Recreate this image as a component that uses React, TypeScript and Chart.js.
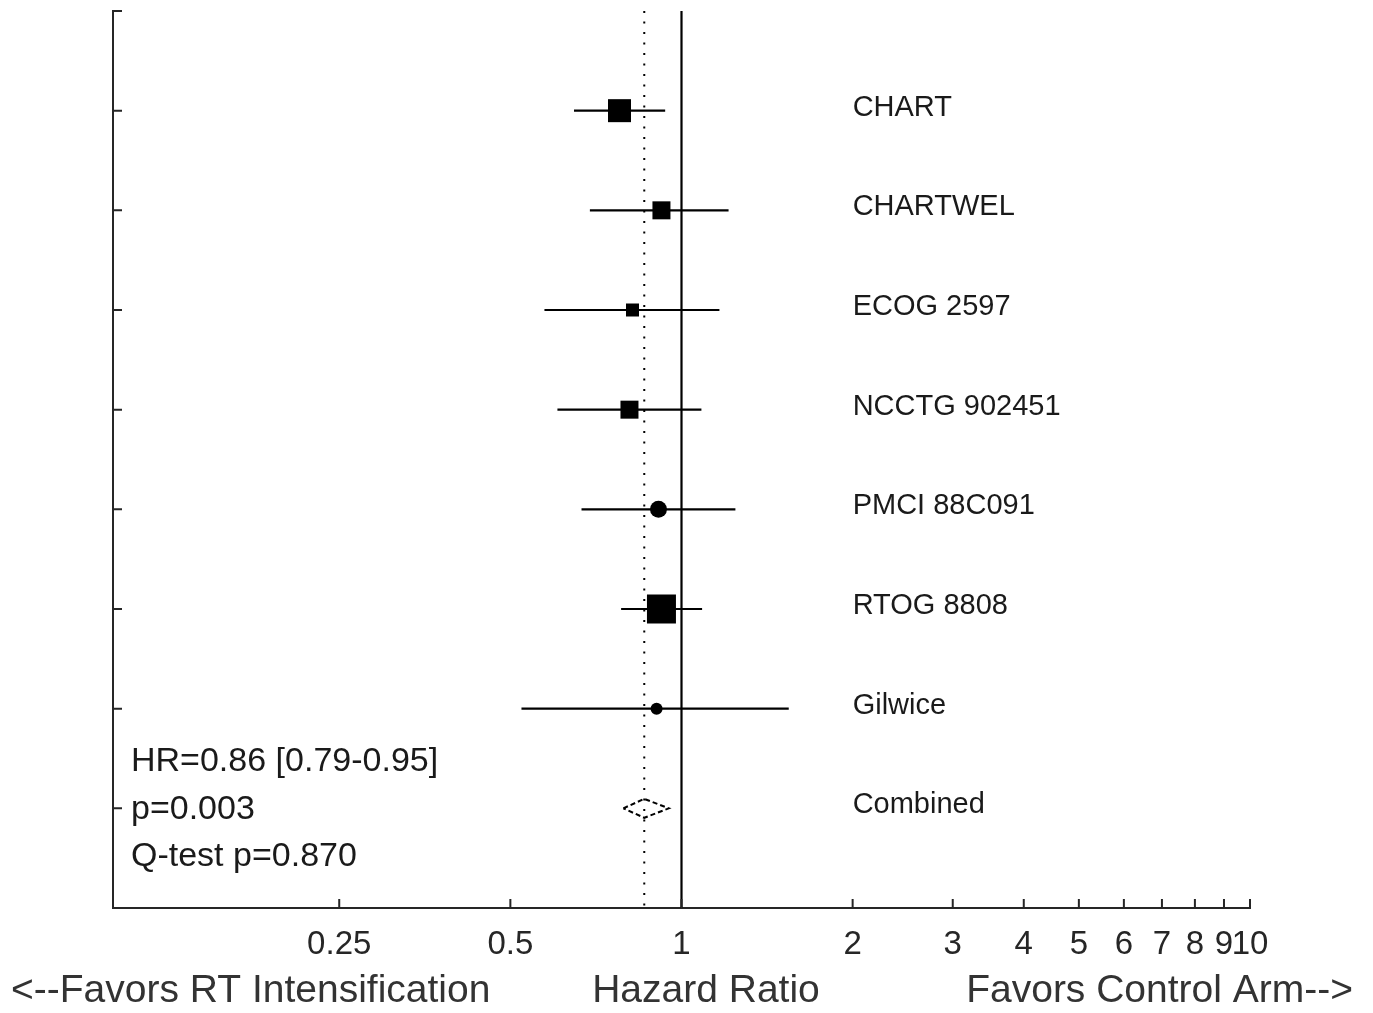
import React, { useEffect, useRef } from "react";
import { Chart, registerables } from "chart.js";

Chart.register(...registerables);

// ---- data ----
const studies = ["CHART", "CHARTWEL", "ECOG 2597", "NCCTG 902451", "PMCI 88C091", "RTOG 8808", "Gilwice"];
const hazardRatio = [0.778, 0.922, 0.82, 0.81, 0.911, 0.922, 0.904];
const ciLower = [0.647, 0.69, 0.574, 0.605, 0.667, 0.783, 0.523];
const ciUpper = [0.936, 1.21, 1.166, 1.084, 1.244, 1.087, 1.544];
const markerShape = ["rect", "rect", "rect", "rect", "circle", "rect", "circle"];
const markerSize = [23, 18, 13, 18, 17, 29, 12];

const combinedLabel = "Combined";
const combinedHR = 0.86;
const combinedLower = 0.79;
const combinedUpper = 0.95;

const xTickValues = [0.25, 0.5, 1, 2, 3, 4, 5, 6, 7, 8, 9, 10];
const yTickValues = [0, 1, 2, 3, 4, 5, 6, 7, 8];
const statsLines = ["HR=0.86 [0.79-0.95]", "p=0.003", "Q-test p=0.870"];
const bottomLeftText = "<--Favors RT Intensification";
const bottomCenterText = "Hazard Ratio";
const bottomRightText = "Favors Control Arm-->";

const FONT = '"Liberation Sans", Arial, Helvetica, sans-serif';
const AXIS = "#262626";

const overlayPlugin = {
  id: "overlay",
  afterDraw(chart: any) {
    const { ctx, chartArea, scales } = chart;
    const x = scales.x;
    const y = scales.y;
    ctx.save();
    // inward tick marks
    ctx.strokeStyle = AXIS;
    ctx.lineWidth = 2;
    ctx.beginPath();
    x.ticks.forEach((t: any) => {
      const px = x.getPixelForValue(t.value);
      ctx.moveTo(px, chartArea.bottom);
      ctx.lineTo(px, chartArea.bottom - 9);
    });
    y.ticks.forEach((t: any) => {
      if (t.value > 8) return;
      const py = y.getPixelForValue(t.value);
      ctx.moveTo(chartArea.left, py);
      ctx.lineTo(chartArea.left + 9, py);
    });
    ctx.stroke();

    // study labels
    ctx.fillStyle = "#1a1a1a";
    ctx.font = `29px ${FONT}`;
    ctx.textAlign = "left";
    ctx.textBaseline = "middle";
    const lx = x.getPixelForValue(2);
    studies.forEach((s, i) => {
      ctx.fillText(s, lx, y.getPixelForValue(i + 1) - 3);
    });
    ctx.fillText(combinedLabel, lx, y.getPixelForValue(8) - 3);

    // stats text
    ctx.font = `34px ${FONT}`;
    const yMid = y.getPixelForValue(8);
    statsLines.forEach((s, i) => {
      ctx.fillText(s, chartArea.left + 18, yMid + 1 + (i - 1) * 47.5);
    });

    // bottom titles
    ctx.fillStyle = "#333333";
    ctx.font = `39px ${FONT}`;
    const by = chartArea.bottom + 83;
    ctx.textAlign = "left";
    ctx.fillText(bottomLeftText, 11, by);
    ctx.textAlign = "center";
    ctx.fillText(bottomCenterText, 706, by);
    ctx.textAlign = "right";
    ctx.fillText(bottomRightText, 1353, by);
    ctx.restore();
  },
};

export default function App() {
  const canvasRef = useRef<HTMLCanvasElement | null>(null);

  useEffect(() => {
    const canvas = canvasRef.current;
    if (!canvas) return;

    const ciDatasets = studies.map((s, i) => ({
      type: "line" as const,
      label: s + " CI",
      data: [
        { x: ciLower[i], y: i + 1 },
        { x: ciUpper[i], y: i + 1 },
      ],
      borderColor: "#000",
      borderWidth: 2.2,
      pointRadius: 0,
      order: 5,
    }));

    const markerDataset = {
      type: "scatter" as const,
      label: "HR",
      data: studies.map((_, i) => ({ x: hazardRatio[i], y: i + 1 })),
      pointStyle: markerShape,
      pointRadius: markerShape.map((m, i) => (m === "rect" ? markerSize[i] / (2 * Math.SQRT1_2) : markerSize[i] / 2)),
      pointBackgroundColor: "#000",
      pointBorderColor: "#000",
      pointBorderWidth: 0,
      order: 0,
    };

    const dh = 0.095;
    const diamond = {
      type: "line" as const,
      label: "Combined",
      data: [
        { x: combinedLower, y: 8 },
        { x: combinedHR, y: 8 - dh },
        { x: combinedUpper, y: 8 },
        { x: combinedHR, y: 8 + dh },
        { x: combinedLower, y: 8 },
      ],
      borderColor: "#000",
      borderWidth: 2,
      borderDash: [5, 3],
      pointRadius: 0,
      tension: 0,
      order: 1,
    };

    const refLine = {
      type: "line" as const,
      label: "ref",
      data: [
        { x: 1, y: 0 },
        { x: 1, y: 9 },
      ],
      borderColor: "#000",
      borderWidth: 2.2,
      pointRadius: 0,
      order: 6,
    };

    const pooledLine = {
      type: "line" as const,
      label: "pooled",
      data: [
        { x: combinedHR, y: 0 },
        { x: combinedHR, y: 9 },
      ],
      borderColor: "#000",
      borderWidth: 2,
      borderDash: [2, 8.5],
      borderCapStyle: "butt",
      pointRadius: 0,
      order: 7,
    };

    const chart = new Chart(canvas, {
      type: "scatter",
      data: {
        datasets: [markerDataset, diamond, ...ciDatasets, refLine, pooledLine] as any,
      },
      options: {
        animation: false,
        responsive: false,
        events: [],
        layout: { autoPadding: false, padding: { left: 0, top: 11, right: 123, bottom: 0 } },
        plugins: { legend: { display: false }, tooltip: { enabled: false } },
        scales: {
          x: {
            type: "logarithmic",
            position: "bottom",
            min: 0.1,
            max: 10,
            afterBuildTicks: (scale: any) => {
              scale.ticks = xTickValues.map((v) => ({ value: v }));
            },
            afterFit: (scale: any) => {
              scale.height = 105;
            },
            ticks: {
              autoSkip: false,
              maxRotation: 0,
              minRotation: 0,
              padding: 17,
              color: AXIS,
              font: { family: FONT, size: 33 },
              callback: (v: any) => String(v),
            },
            grid: { display: true, drawOnChartArea: false, drawTicks: false },
            border: { display: true, color: AXIS, width: 2 },
          },
          y: {
            type: "linear",
            min: 0,
            max: 9,
            reverse: true,
            afterBuildTicks: (scale: any) => {
              scale.ticks = yTickValues.map((v) => ({ value: v }));
            },
            afterFit: (scale: any) => {
              scale.width = 113;
            },
            ticks: { display: false },
            grid: { display: true, drawOnChartArea: false, drawTicks: false },
            border: { display: true, color: AXIS, width: 2 },
          },
        },
      } as any,
      plugins: [overlayPlugin],
    });

    return () => chart.destroy();
  }, []);

  return (
    <div style={{ position: "absolute", left: 0, top: 0, width: 1373, height: 1013, background: "#fff" }}>
      <canvas ref={canvasRef} width={1373} height={1013} style={{ display: "block" }} />
    </div>
  );
}
